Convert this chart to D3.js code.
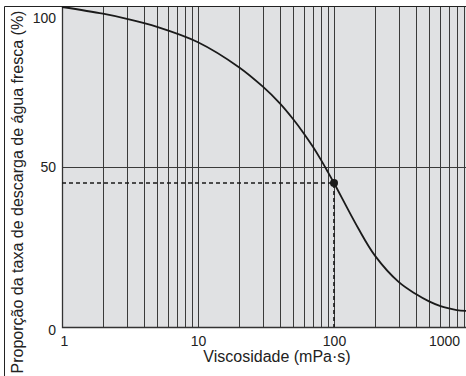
<!DOCTYPE html>
<html>
<head>
<meta charset="utf-8">
<script src="https://cdn.jsdelivr.net/npm/d3@7"></script>
<style>
    body { margin: 0; background: #fff; }
    svg { display: block; font-family: "Liberation Sans", Arial, sans-serif; }
</style>
</head>
<body>
<div class="osvg"></div>
<script>
// viscosity (mPa·s) and fresh water discharge ratio (%)
var viscosity = [1, 2, 3, 5, 10, 20, 30, 40, 50, 60, 70, 80, 90, 100, 150, 200, 300, 400, 500, 600, 700, 800, 1000];
var ratio = [100, 97.9, 96.3, 93.8, 89.0, 81.2, 75.1, 69.9, 65.0, 60.5, 56.3, 52.3, 48.5, 45, 31, 22.3, 14.0, 10.3, 8.0, 6.6, 5.8, 5.3, 4.95];
var xTicks = [1, 10, 100, 1000];
var yTicks = [0, 50, 100];
var marked = { v: 100, r: 45 };

var W = 466, H = 376;
var margin = { top : 7, left : 62, bottom : 49 };

var x = d3.scaleLog()
    .domain([1, 1000])
    .range([margin.left, margin.left + 3 * 136]);

var y = d3.scaleLinear()
    .domain([0, 100])
    .range([H - margin.bottom, margin.top]);

var svg = d3.select('.osvg').append('svg')
    .attr('width', W)
    .attr('height', H);

// outer frame (left + top)
svg.append('path')
    .attr('d', 'M4.5,' + H + 'V6.5H' + W)
    .attr('fill', 'none')
    .attr('stroke', '#222')
    .attr('stroke-width', 1);

svg.append('rect')
    .attr('x', x(1))
    .attr('y', y(100))
    .attr('width', W - x(1))
    .attr('height', y(0) - y(100))
    .attr('fill', '#e0e1e3');

// vertical grid: 1..9 in each decade
var grid = [];
[1, 10, 100].forEach(function (d) {
    for (var k = 1; k <= 9; k++) grid.push(d * k);
});
grid.push(1000);

svg.append('g')
    .selectAll('line')
    .data(grid)
    .enter().append('line')
    .attr('x1', function (d) { return Math.round(x(d)) + 0.5; })
    .attr('x2', function (d) { return Math.round(x(d)) + 0.5; })
    .attr('y1', y(100))
    .attr('y2', y(0))
    .attr('stroke', '#3a3a3a')
    .attr('stroke-width', 1);

// 50% line
svg.append('line')
    .attr('x1', x(1)).attr('x2', W)
    .attr('y1', Math.round(y(50)) + 0.5).attr('y2', Math.round(y(50)) + 0.5)
    .attr('stroke', '#3a3a3a');

// left + bottom border
svg.append('path')
    .attr('d', 'M' + (x(1) + 0.5) + ',' + y(100) + 'V' + (y(0) + 0.5) + 'H' + W)
    .attr('fill', 'none')
    .attr('stroke', '#333')
    .attr('stroke-width', 1.3);

// dashed reference lines
svg.append('path')
    .attr('d', 'M' + x(1) + ',' + y(marked.r) + 'H' + x(marked.v) + 'V' + y(0))
    .attr('fill', 'none')
    .attr('stroke', '#1a1a1a')
    .attr('stroke-width', 1.6)
    .attr('stroke-dasharray', '4,3');

var line = d3.line()
    .x(function (d, i) { return x(viscosity[i]); })
    .y(function (d) { return y(d); })
    .curve(d3.curveCatmullRom.alpha(0.5));

svg.append('path')
    .datum(ratio)
    .attr('d', line)
    .attr('fill', 'none')
    .attr('stroke', '#1a1a1a')
    .attr('stroke-width', 1.8);

svg.append('circle')
    .attr('cx', x(marked.v))
    .attr('cy', y(marked.r))
    .attr('r', 4)
    .attr('fill', '#1a1a1a');

// axes (labels only)
var gx = svg.append('g')
    .attr('transform', 'translate(0,' + y(0) + ')')
    .call(d3.axisBottom(x).tickValues(xTicks).tickFormat(d3.format('d')).tickSize(0).tickPadding(9));
gx.select('.domain').remove();
gx.selectAll('text')
    .attr('font-size', 14)
    .attr('font-family', null)
    .attr('fill', '#222')
    .attr('dx', function (d) { return d == 1 ? 2 : d == 1000 ? -26 : 0; });

var gy = svg.append('g')
    .attr('transform', 'translate(' + x(1) + ',0)')
    .call(d3.axisLeft(y).tickValues(yTicks).tickSize(0).tickPadding(6));
gy.select('.domain').remove();
gy.selectAll('text')
    .attr('font-size', 14)
    .attr('font-family', null)
    .attr('fill', '#222')
    .attr('dy', function (d) { return d == 100 ? '1.1em' : d == 0 ? '0.55em' : '0.35em'; });

svg.append('text')
    .attr('x', 277)
    .attr('y', 362)
    .attr('text-anchor', 'middle')
    .attr('font-size', 16)
    .attr('fill', '#222')
    .text('Viscosidade (mPa·s)');

svg.append('text')
    .attr('transform', 'translate(23,192) rotate(-90)')
    .attr('text-anchor', 'middle')
    .attr('font-size', 16)
    .attr('fill', '#222')
    .text('Proporção da taxa de descarga de água fresca (%)');
</script>
</body>
</html>
